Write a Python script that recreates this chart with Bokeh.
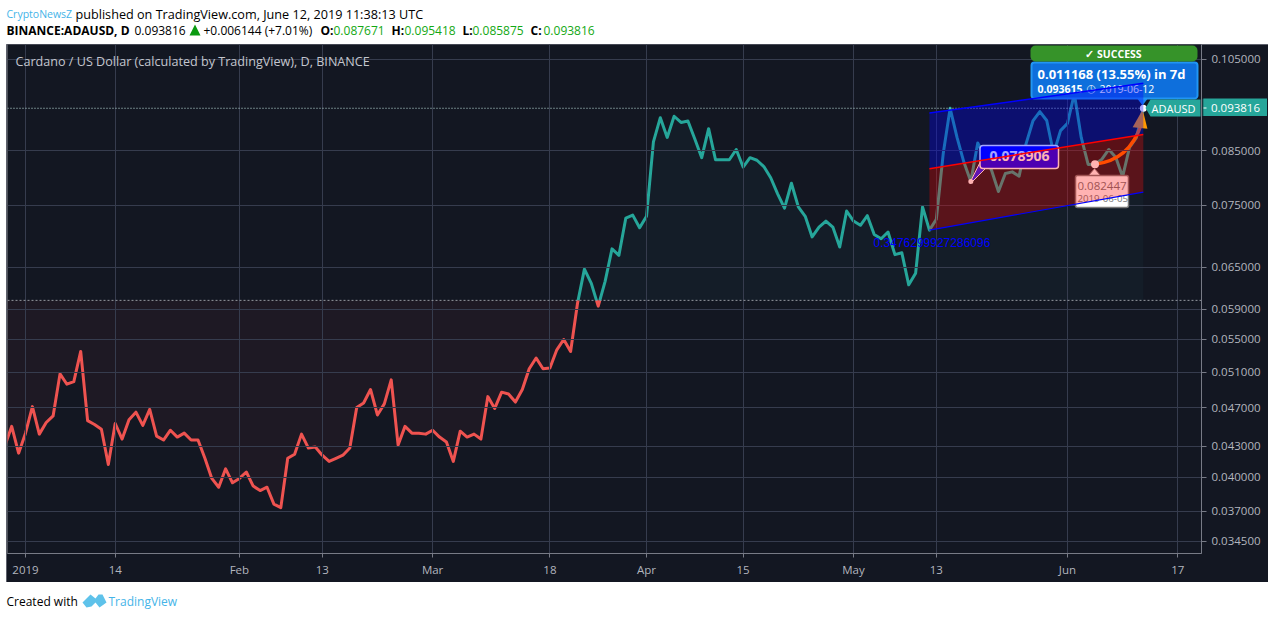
import math
import pandas as pd
from bokeh.plotting import figure
from bokeh.layouts import column
from bokeh.models import (BoxAnnotation, FixedTicker, Label, PolyAnnotation,
                          PrintfTickFormatter, Range1d, Span)
from bokeh.embed import file_html
from bokeh.resources import INLINE

dates = pd.date_range("2018-12-29", "2019-06-12", freq="D")
closes = [
 .0430,.0450,.0423,
 .0443,.0471,.0442,.0454,.0461,.0508,.0496,.0499,.0535,.0456,.0452,.0447,.0412,.0453,.0437,.0457,.0465,.0451,.0468,.0440,.0436,.0446,.0439,.0443,.0436,.0436,.0418,.0399,.0391,.0408,.0395,
 .0399,.0405,.0392,.0388,.0391,.0376,.0373,.0418,.0422,.0442,.0428,.0429,.0421,.0415,.0418,.0421,.0428,.0470,.0475,.0490,.0462,.0474,.0501,.0431,.0450,.0443,.0443,.0442,
 .0446,.0439,.0434,.0415,.0445,.0439,.0442,.0437,.0482,.0469,.0487,.0485,.0476,.0490,.0514,.0527,.0514,.0515,.0537,.0550,.0535,.0598,.0647,.0626,.0594,.0629,.0678,.0668,.0728,.0733,.0712,
 .0731,.0868,.0918,.0877,.0921,.0908,.0911,.0874,.0837,.0895,.0833,.0833,.0833,.0853,.0819,.0837,.0832,.0820,.0799,.0770,.0745,.0789,.0747,.0731,.0697,.0713,.0723,.0713,.0681,.0740,
 .0723,.0716,.0732,.0701,.0694,.0705,.0669,.0672,.0624,.0641,.0747,.0708,.0726,.0845,.0938,.0877,.0828,.0792,.0866,.0839,.0813,.0774,.0807,.0810,.0802,.0864,.0911,.0931,.0912,.0845,.0891,
 .0906,.0970,.0877,.0824,.082447,.0834,.0853,.0838,.0801,.0857,.087671,.093816,
]
base_value = 0.0602
last_value = 0.093816
price_ticks = [0.105, 0.085, 0.075, 0.065, 0.059, 0.055, 0.051, 0.047, 0.043, 0.040, 0.037, 0.0345]
time_tick_dates = ["2019-01-01","2019-01-14","2019-02-01","2019-02-13","2019-03-01","2019-03-18","2019-04-01","2019-04-15","2019-05-01","2019-05-13","2019-06-01","2019-06-17"]
time_tick_labels = ["2019","14","Feb","13","Mar","18","Apr","15","May","13","Jun","17"]
channel_dates = ["2019-05-12","2019-06-12"]
channel_upper = [0.0928, 0.0994]
channel_mid = [0.0816, 0.0883]
channel_lower = [0.0708, 0.0773]
low_point = ("2019-05-18", 0.0792)
start_point = ("2019-06-05", 0.082447)
end_point = ("2019-06-12", 0.093816)

origin = pd.Timestamp("2019-01-01")
def day(d):
    return (pd.Timestamp(d) - origin).days

xs = [(d - origin).days for d in dates]

# split the series at the baseline, in log space
segs_up, segs_dn = [], []
lb = math.log(base_value)
px, pv = xs[0], closes[0]
cur = [[px], [pv]]
cur_up = pv >= base_value
fx, fy = [px], [pv]
for x, v in zip(xs[1:], closes[1:]):
    if (v >= base_value) != (pv >= base_value):
        t = (lb - math.log(pv)) / (math.log(v) - math.log(pv))
        cx = px + t * (x - px)
        cur[0].append(cx); cur[1].append(base_value)
        (segs_up if cur_up else segs_dn).append(cur)
        cur = [[cx], [base_value]]
        cur_up = v >= base_value
        fx.append(cx); fy.append(base_value)
    cur[0].append(x); cur[1].append(v)
    fx.append(x); fy.append(v)
    px, pv = x, v
(segs_up if cur_up else segs_dn).append(cur)

BG = "#131722"; GRID = "#363c4e"; BORDER = "#787b86"; AXT = "#b2b5be"; TEAL = "#26a69a"; RED = "#ef5350"
FONT = "Open Sans"

MX, MY = 6, 44     # page position of the chart figure
FOOT_Y = 582
FLAG_X, FLAG_Y = 1202, 98

p = figure(width=1262, height=538, output_backend="svg", toolbar_location=None,
           x_range=Range1d(-2.61, 170.43), y_range=Range1d(0.03355, 0.1087),
           y_axis_type="log", y_axis_location="right",
           min_border_left=1, min_border_right=67, min_border_top=0, min_border_bottom=29,
           background_fill_color=BG, border_fill_color=BG, outline_line_color=None,
           margin=(0, 0, 0, MX), styles={"outline": f"1px solid {BORDER}", "outline-offset": "-1px"})

def strip(w, h, fill="#ffffff", styles=None):
    f = figure(width=w, height=h, frame_width=w, frame_height=h, title=None, output_backend="svg",
               toolbar_location=None, x_axis_location=None, y_axis_location=None, min_border=0,
               x_range=Range1d(0, w), y_range=Range1d(h, 0), background_fill_color=fill,
               border_fill_color=fill, outline_line_color=None, margin=(0, 0, 0, 0), styles=styles or {})
    f.grid.visible = False
    return f

header = strip(1274, 44)
footer = strip(1274, 36)
flag = strip(65, 18, TEAL, styles={"position": "absolute", "left": f"{FLAG_X}px", "top": f"{FLAG_Y}px"})

OFF = {id(p): (MX, MY), id(header): (0, 0), id(footer): (0, FOOT_Y), id(flag): (FLAG_X, FLAG_Y)}

def box(l, t, r, b, fill, line=None, lw=1, radius=0, level="annotation", on=p):
    ox, oy = OFF[id(on)]
    on.add_layout(BoxAnnotation(left=l - ox, right=r - ox, top=t - oy, bottom=b - oy, left_units="canvas",
                                right_units="canvas", top_units="canvas", bottom_units="canvas",
                                fill_color=fill, fill_alpha=1, line_color=line, line_width=lw, line_alpha=1,
                                border_radius=radius, level=level, editable=False))
def poly(xv, yv, fill, line=None, lw=1, level="annotation", on=p):
    ox, oy = OFF[id(on)]
    on.add_layout(PolyAnnotation(xs=[v - ox for v in xv], ys=[v - oy for v in yv], xs_units="canvas",
                                 ys_units="canvas", fill_color=fill, fill_alpha=1, line_color=line,
                                 line_width=lw, line_alpha=1, level=level))
def text(x, y, s, color="#000000", size=12, style="normal", align="left", level="annotation", font=FONT, on=p):
    ox, oy = OFF[id(on)]
    on.add_layout(Label(x=x - ox, y=y - oy, x_units="canvas", y_units="canvas", text=s, text_color=color,
                        text_font=font, text_font_size=f"{size}px", text_font_style=style,
                        text_align=align, text_baseline="middle", level=level))

# axes
ax = p.yaxis[0]
ax.ticker = FixedTicker(ticks=price_ticks, minor_ticks=[])
ax.formatter = PrintfTickFormatter(format="%.6f")
ax.major_tick_in = 0; ax.major_tick_out = 5; ax.major_tick_line_color = BORDER
ax.axis_line_color = BORDER; ax.major_label_text_color = AXT
ax.major_label_text_font = FONT; ax.major_label_text_font_size = "11.5px"; ax.major_label_standoff = 5
xa = p.xaxis[0]
tv = [day(d) for d in time_tick_dates]
xa.ticker = FixedTicker(ticks=tv, minor_ticks=[])
xa.major_label_overrides = dict(zip(tv, time_tick_labels))
xa.major_tick_in = 0; xa.major_tick_out = 4; xa.major_tick_line_color = BORDER
xa.axis_line_color = BORDER; xa.major_label_text_color = AXT
xa.major_label_text_font = FONT; xa.major_label_text_font_size = "11.5px"; xa.major_label_standoff = 4
p.xgrid.grid_line_color = GRID; p.ygrid.grid_line_color = GRID
p.ygrid.ticker = ax.ticker; p.xgrid.ticker = xa.ticker

# baseline tints + line (under everything else)
above = [max(v, base_value) for v in fy]
below = [min(v, base_value) for v in fy]
base = [base_value] * len(fx)
p.varea(x=fx, y1=above, y2=base, fill_color=TEAL, fill_alpha=0.05, level="underlay")
p.varea(x=fx, y1=below, y2=base, fill_color=RED, fill_alpha=0.05, level="underlay")
p.add_layout(Span(location=base_value, dimension="width", line_color="#9598a1", line_width=1, line_dash=[2, 2], level="underlay"))
p.add_layout(Span(location=last_value, dimension="width", line_color="#c4e6e2", line_width=1, line_dash=[1, 2], level="underlay"))
p.multi_line(xs=[s[0] for s in segs_up], ys=[s[1] for s in segs_up], line_color=TEAL, line_width=3, line_join="round", level="underlay")
p.multi_line(xs=[s[0] for s in segs_dn], ys=[s[1] for s in segs_dn], line_color=RED, line_width=3, line_join="round", level="underlay")

# orange arrow
p.quadratic(x0=[day(start_point[0])], y0=[start_point[1]], x1=[day(end_point[0]) - 0.3], y1=[0.0904],
            cx=[day("2019-06-10")], cy=[0.0832], line_color="#ff6d00", line_width=3.5, level="underlay")
p.patch(x=[day("2019-06-11") - 0.55, day("2019-06-12") + 0.6, day("2019-06-12") - 0.1],
        y=[0.0898, 0.0895, 0.0935], fill_color="#ff9800", line_color=None, level="underlay")
p.scatter(x=[day(start_point[0])], y=[start_point[1]], size=8, marker="circle", fill_color="#ffffff", line_color=None, level="underlay")

# callouts lying under the channel fill
lv = "underlay"
poly([979, 986, 970, 970], [163, 167, 183, 181], "#1c1cff", "#ffffff", 1, level=lv)
box(979.5, 145, 1058, 168, "#0000ff", "#ffffff", 1.5, 3, level=lv)
text(1019, 155, "0.078906", "#ffffff", 14, "bold", "center", level=lv)
poly([1088, 1094, 1100], [175, 168, 175], "#ffffff", "#777777", 1, level=lv)
box(1075, 175, 1128, 207, "#ffffff", "#777777", 1.5, 2, level=lv)
text(1077, 185, "0.082447", "#787878", 11.5, align="left", level=lv)
text(1077, 198, "2019-06-05", "#787878", 9.7, align="left", level=lv)
poly([1136, 1148, 1142], [97, 97, 105], "#1e88f0", None, level=lv)
box(1031, 62, 1197, 98, "#0e6fdc", "#2196f3", 2, 3, level=lv)
text(1037, 73, "0.011168 (13.55%) in 7d", "#ffffff", 13, "bold", level=lv)
text(1037, 88, "0.093615", "#ffffff", 10.5, "bold", level=lv)
text(1086, 88, "\u25f7", "#d6e4fb", 11, "bold", level=lv, font="DejaVu Sans")
text(1099, 88, "2019-06-12", "#ffffff", 10.5, level=lv)

# channel
cx0, cx1 = day(channel_dates[0]), day(channel_dates[1])
p.scatter(x=[day(low_point[0])], y=[low_point[1]], size=5, marker="circle", fill_color="#ffffff", line_color=None, level="glyph")
p.scatter(x=[day(end_point[0])], y=[end_point[1]], size=7, marker="circle", fill_color="#ffffff", line_color=None, level="glyph")
p.patch(x=[cx0, cx1, cx1, cx0], y=[channel_upper[0], channel_upper[1], channel_mid[1], channel_mid[0]],
        fill_color="#0000ff", fill_alpha=0.35, line_color=None)
p.patch(x=[cx0, cx1, cx1, cx0], y=[channel_mid[0], channel_mid[1], channel_lower[1], channel_lower[0]],
        fill_color="#ff0000", fill_alpha=0.3, line_color=None)
p.line(x=[cx0, cx1], y=channel_upper, line_color="#0000ff", line_width=1.5)
p.line(x=[cx0, cx1], y=channel_mid, line_color="#ff0000", line_width=1.5)
p.line(x=[cx0, cx1], y=channel_lower, line_color="#0000ff", line_width=1.2)
p.add_layout(Label(x=day("2019-05-01") + 2.9, y=0.0688, text="0.3476299927286096", text_color="#0000ff",
                   text_font="Liberation Sans", text_font_size="12px", text_baseline="middle", level="overlay"))

# success pill, price flags
box(1030, 45, 1197, 61, "#369329", None, 0, 5)
text(1113, 53, "\u2713 SUCCESS", "#ffffff", 10.5, "bold", "center")
poly([1145, 1150, 1200, 1200, 1150], [107.5, 99, 99, 116, 116], TEAL)
text(1173, 107.5, "ADAUSD", "#ffffff", 11, align="center")
box(1202, 107, 1206, 108, "#ffffff", None, 0, on=flag)
text(1235, 107.5, "0.093816", "#ffffff", 11.5, align="center", on=flag)

# header and footer texts
G = "#14a814"
text(6, 13, "CryptoNewsZ", "#44b4e8", 10.5, on=header)
text(75, 13, "published on TradingView.com, June 12, 2019 11:38:13 UTC", "#000000", 12.65, on=header)
text(6, 29.5, "BINANCE:ADAUSD, D", "#000000", 12, "bold", on=header)
text(134, 29.5, "0.093816", "#000000", 12, on=header)
poly([189, 200, 194.5], [35, 35, 24], "#0a9a10", on=header)
text(203, 29.5, "+0.006144 (+7.01%)", "#000000", 12, on=header)
for tx, s, vx, v in [(320, "O:", 333, "0.087671"), (391, "H:", 404, "0.095418"), (462, "L:", 472, "0.085875"), (530, "C:", 543, "0.093816")]:
    text(tx, 29.5, s, "#000000", 12, "bold", on=header)
    text(vx, 29.5, v, G, 12, on=header)
text(15, 60.5, "Cardano / US Dollar (calculated by TradingView), D, BINANCE", "#c3c6ce", 12.6)
text(6, 600.5, "Created with", "#000000", 12, on=footer)
poly([82, 90, 95, 98, 102, 106, 99, 95, 91, 86], [602, 594, 598, 594, 594, 602, 607, 602, 606, 607], "#5ec2ea", on=footer)
text(108, 600.5, "TradingView", "#44b4e8", 12, on=footer)

page = column(header, p, footer, flag, spacing=0)
open("out.html", "w").write(file_html(page, INLINE))
